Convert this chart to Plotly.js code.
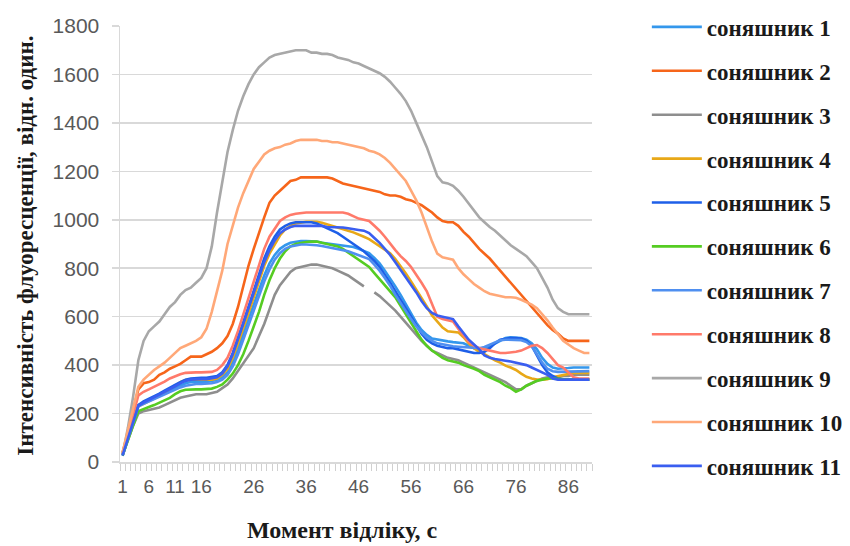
<!DOCTYPE html>
<html>
<head>
<meta charset="utf-8">
<script src="https://cdn.plot.ly/plotly-3.0.1.min.js"></script>
<style>html,body{margin:0;padding:0;background:#fff;}#chart{width:850px;height:546px;}</style>
</head>
<body>
<div id="chart"></div>
<script>
// x categories: measurement moments 1..90
const moments = Array.from({length: 90}, (_, i) => i + 1);
const tickLabels = [1, 6, 11, 16, 26, 36, 46, 56, 66, 76, 86];
const seriesNames = ['соняшник 1','соняшник 2','соняшник 3','соняшник 4','соняшник 5','соняшник 6','соняшник 7','соняшник 8','соняшник 9','соняшник 10','соняшник 11'];

const s1 = [30,100,170,235,245,255,265,275,285,295,305,315,325,330,330,330,330,335,340,350,370,410,465,530,590,650,710,770,820,855,880,895,905,910,912,912,912,910,905,902,900,898,896,893,888,880,872,862,842,820,790,760,725,690,650,610,575,545,525,510,505,500,498,495,492,490,480,470,465,468,478,490,502,512,515,515,512,505,490,465,430,405,390,385,385,388,390,390,390,390];
const s2 = [40,120,215,300,325,330,340,360,370,385,395,405,420,435,435,435,445,455,470,490,520,570,640,730,810,880,950,1010,1070,1100,1120,1140,1160,1165,1175,1175,1175,1175,1175,1175,1170,1160,1150,1145,1140,1135,1130,1125,1120,1115,1105,1100,1100,1095,1085,1080,1070,1060,1045,1030,1010,995,990,990,975,950,930,905,880,860,840,815,790,765,740,715,690,665,640,615,590,565,545,530,510,500,500,500,500,500];
const s3 = [30,90,150,200,210,215,220,225,235,245,255,265,270,275,280,280,280,285,290,305,320,345,375,410,440,470,520,570,630,690,730,760,785,800,805,810,815,815,810,805,800,790,780,770,755,740,725,null,700,685,665,645,625,600,575,550,525,500,480,460,450,440,430,425,420,410,400,390,380,370,360,350,340,330,315,300,300,315,325,335,345,350,350,350,355,355,360,360,360,360];
const s4 = [35,100,165,230,240,250,262,275,288,300,315,330,338,340,340,340,340,340,345,360,385,430,490,550,615,680,750,810,860,900,935,960,975,985,990,992,992,992,988,982,975,968,962,955,948,940,930,920,905,890,876,862,838,810,778,745,712,680,642,605,578,555,540,538,535,515,490,470,455,445,432,420,410,398,390,380,365,352,345,340,340,342,350,355,360,365,368,368,368,368];
const s5 = [25,95,165,235,250,260,270,282,295,305,318,330,340,345,348,348,348,350,355,370,400,450,510,575,640,710,780,840,890,930,960,975,985,990,990,990,990,985,975,965,955,945,930,915,900,885,870,850,830,805,775,740,705,670,630,595,560,530,505,490,480,475,470,470,465,460,455,450,450,455,470,490,505,510,512,512,510,500,480,440,400,370,355,345,340,340,340,340,340,340];
const s6 = [28,85,150,210,220,227,235,245,255,265,280,292,298,300,300,300,300,303,310,320,340,365,400,445,500,560,620,690,750,800,840,870,890,900,905,908,910,910,905,900,895,890,880,865,850,835,820,805,780,755,730,705,680,645,610,575,540,505,480,460,445,430,420,415,410,400,393,385,375,360,350,340,330,315,305,290,300,315,325,335,340,345,345,343,340,340,340,340,340,340];
const s7 = [30,95,165,230,240,250,258,268,278,288,298,308,315,320,322,322,322,325,330,340,360,395,445,505,565,625,685,745,795,835,862,880,890,895,898,898,898,895,892,888,884,880,875,870,862,855,848,838,815,790,760,728,690,655,620,590,560,535,515,500,490,485,480,478,476,475,472,470,470,475,485,495,503,505,505,505,503,495,478,445,410,385,375,372,372,375,375,375,375,375];
const s8 = [35,110,195,275,290,300,310,320,332,345,355,362,368,370,370,370,370,372,380,400,430,480,540,610,680,750,820,880,930,965,995,1010,1020,1025,1028,1030,1030,1030,1030,1030,1030,1030,1030,1025,1015,1005,1000,995,975,955,930,900,875,850,830,805,775,740,705,650,600,590,585,580,550,520,495,480,470,465,460,455,450,450,452,455,460,470,480,483,470,450,425,400,390,370,350,345,345,345];
const s9 = [30,140,270,420,500,540,560,580,610,640,660,690,710,720,740,760,800,890,1030,1160,1280,1370,1450,1510,1560,1600,1630,1650,1670,1680,1685,1690,1695,1700,1700,1700,1690,1690,1685,1685,1680,1670,1665,1660,1650,1645,1635,1625,1615,1605,1590,1570,1545,1520,1490,1450,1400,1350,1300,1240,1180,1155,1150,1140,1120,1095,1065,1035,1010,990,970,955,935,915,895,880,865,850,825,800,760,720,670,635,620,610,610,610,610,610];
const s10 = [40,130,220,310,340,360,380,395,410,430,450,470,480,490,500,515,550,620,700,790,900,980,1050,1110,1160,1210,1240,1270,1285,1295,1300,1310,1315,1325,1330,1330,1330,1330,1325,1325,1320,1320,1315,1310,1305,1300,1295,1285,1280,1270,1255,1235,1210,1185,1160,1120,1080,1030,970,910,860,845,840,835,800,775,755,735,720,705,695,690,685,680,680,678,670,660,650,635,610,585,555,525,500,485,470,460,450,450];
const s11 = [28,95,165,232,245,255,265,278,290,300,312,325,335,340,342,342,342,345,350,365,395,445,505,570,635,700,765,825,875,915,945,960,970,975,975,975,975,975,975,970,970,970,968,965,960,958,955,945,925,905,880,855,825,795,765,735,700,665,635,615,605,600,595,590,560,530,505,485,465,440,430,425,420,418,415,410,405,400,390,380,372,360,345,340,340,340,340,340,340,340];

const allSeries = [s1,s2,s3,s4,s5,s6,s7,s8,s9,s10,s11];
const colors = ['#3497EC','#F6651A','#8E8E8E','#E8A818','#1E5FE8','#55CC22','#4F8FF0','#FF7A6A','#A8A8A8','#FFA878','#3A5EF0'];

const traces = allSeries.map((ys, i) => ({
  type: 'scatter', mode: 'lines',
  x: moments, y: ys, name: seriesNames[i],
  legendgroup: 'g' + i,
  connectgaps: false,
  line: {color: colors[i], width: 2.6},
  hoverinfo: 'skip'
}));

const layout = {
  width: 850, height: 546,
  margin: {l: 120, r: 258, t: 26, b: 84},
  paper_bgcolor: '#ffffff', plot_bgcolor: '#ffffff',
  showlegend: true,
  legend: {
    xref: 'container', yref: 'container',
    x: 0.761, y: 0.99, xanchor: 'left', yanchor: 'top',
    tracegroupgap: 11,
    itemwidth: 50,
    maxheight: 546,
    font: {family: 'Liberation Serif, "Times New Roman", serif', size: 23, color: '#1a1a1a', weight: 'bold'},
    bgcolor: 'rgba(0,0,0,0)'
  },
  xaxis: {
    range: [0.5, 90.5],
    tickmode: 'array', tickvals: tickLabels, ticktext: tickLabels.map(String),
    ticks: '', showgrid: false, zeroline: false,
    showline: true, linecolor: '#D9D9D9', linewidth: 1.5,
    tickfont: {family: 'Liberation Sans, Arial, sans-serif', size: 19, color: '#595959'},
    ticklabelstandoff: 7,
    minor: {tickmode: 'linear', tick0: 0.5, dtick: 1, ticks: 'outside', ticklen: 7, tickcolor: '#D0D0D0', tickwidth: 1, showgrid: false}
  },
  yaxis: {
    range: [0, 1800], dtick: 200,
    ticks: 'outside', ticklen: 7, tickcolor: '#D9D9D9', tickwidth: 1.5,
    showgrid: true, gridcolor: '#D9D9D9', gridwidth: 1.5,
    zeroline: false, showline: true, linecolor: '#D9D9D9', linewidth: 1.5,
    ticklabelstandoff: 8,
    tickfont: {family: 'Liberation Sans, Arial, sans-serif', size: 21, color: '#595959'}
  },
  annotations: [
    {xref: 'paper', yref: 'paper', x: 0.47, y: -0.156, xanchor: 'center', yanchor: 'middle', showarrow: false,
     text: '<b>Момент відліку, с</b>', font: {family: 'Liberation Serif, "Times New Roman", serif', size: 24, color: '#1a1a1a'}},
    {xref: 'paper', yref: 'paper', x: -0.2, y: 0.495, xanchor: 'center', yanchor: 'middle', showarrow: false, textangle: -90,
     text: '<b>Інтенсивність флуоресценції, відн. один.</b>', font: {family: 'Liberation Serif, "Times New Roman", serif', size: 23, color: '#1a1a1a'}}
  ]
};

Plotly.newPlot('chart', traces, layout, {displayModeBar: false, staticPlot: true});
</script>
</body>
</html>
